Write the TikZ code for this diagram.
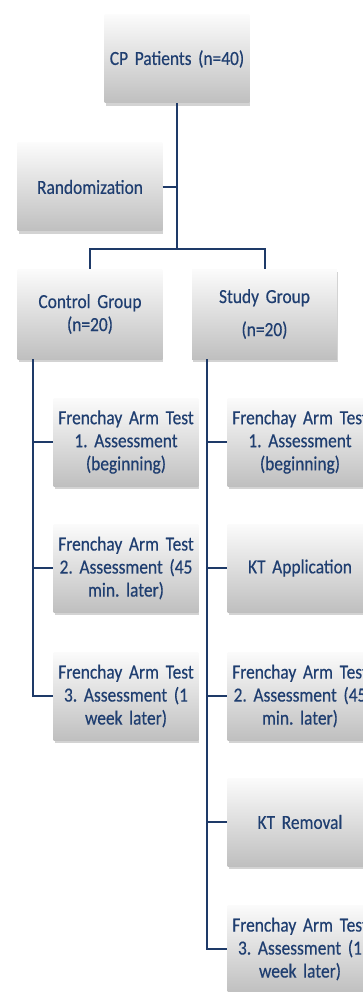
\documentclass[tikz,border=0pt]{standalone}
\usepackage{fontspec}
\setmainfont{Carlito}[FakeStretch=0.87, WordSpace=0.75, FakeBold=0.4]
\usepackage{tikz}
\usetikzlibrary{positioning, shadows}
\frenchspacing

\definecolor{navyline}{RGB}{30,58,104}
\definecolor{navytext}{RGB}{31,62,112}

\begin{document}
\begin{tikzpicture}[x=1pt, y=-1pt]
    \tikzstyle{box}=[rectangle,
                     draw=none,
                     top color=white!97!gray,
                     bottom color=gray!50,
                     minimum width=143pt,
                     minimum height=88pt,
                     text width=138pt,
                     align=center,
                     text=navytext,
                     font=\fontsize{20}{23}\selectfont,
                     drop shadow={shadow xshift=1pt, shadow yshift=-3pt,
                                  opacity=0.35, fill=gray}]
    \tikzstyle{link}=[draw=navyline, line width=2pt]

    \useasboundingbox (0,0) rectangle (362,992);

    % top of the chart
    \node[box] (cp)    at (177,59)   {CP Patients (n=40)};
    \node[box] (rand)  at (90,187)   {Randomization};
    \node[box, minimum height=90pt] (ctrl)  at (90,314)  {Control Group\\(n=20)};
    \node[box, minimum height=90pt] (study) at (264.5,314) {Study Group\\[10pt](n=20)};

    % control group steps
    \node[box] (c1) at (126,442) {Frenchay Arm Test\\1. Assessment\\(beginning)};
    \node[box] (c2) at (126,568) {Frenchay Arm Test\\2. Assessment (45\\min. later)};
    \node[box] (c3) at (126,696) {Frenchay Arm Test\\3. Assessment (1\\week later)};

    % study group steps
    \node[box] (s1) at (300,442) {Frenchay Arm Test\\1. Assessment\\(beginning)};
    \node[box] (s2) at (300,568) {KT Application};
    \node[box] (s3) at (300,696) {Frenchay Arm Test\\2. Assessment (45\\min. later)};
    \node[box] (s4) at (300,822) {KT Removal};
    \node[box] (s5) at (300,949) {Frenchay Arm Test\\3. Assessment (1\\week later)};

    \coordinate (split) at (177,249);
    \coordinate (cbus)  at (33,359);
    \coordinate (sbus)  at (207,359);

    \draw[link] (cp.south) -- (split);
    \draw[link] (rand.east) -- (rand.east -| split);
    \draw[link] (ctrl.north) |- (split) -| (study.north);

    \draw[link] (cbus) |- (c3.west);
    \foreach \n in {c1,c2}
        \draw[link] (cbus |- \n.west) -- (\n.west);

    \draw[link] (sbus) |- (s5.west);
    \foreach \n in {s1,s2,s3,s4}
        \draw[link] (sbus |- \n.west) -- (\n.west);
\end{tikzpicture}
\end{document}
